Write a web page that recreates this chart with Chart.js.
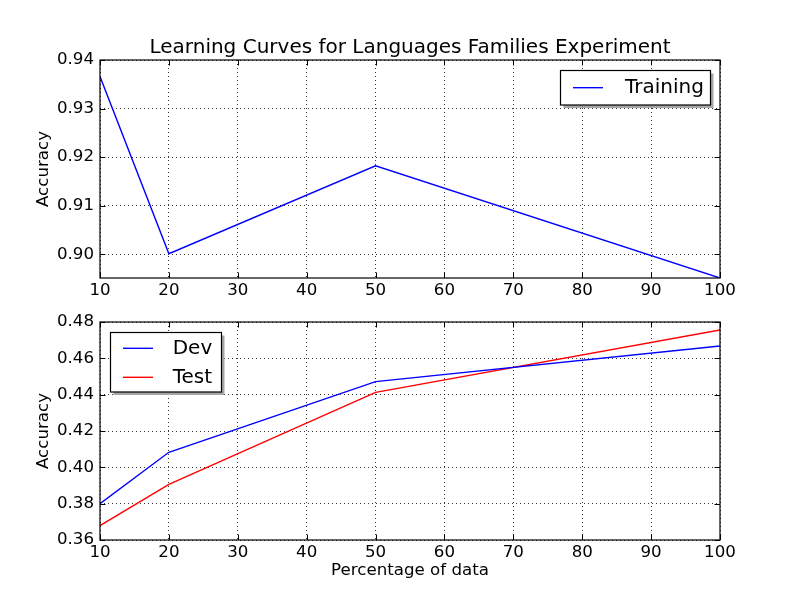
<!DOCTYPE html>
<html>
<head>
<meta charset="utf-8">
<script src="https://cdn.jsdelivr.net/npm/chart.js@4"></script>
<style>
  body { margin: 0; background: #fff; }
  #wrap { position: relative; width: 800px; height: 600px; background: #fff; }
  canvas { position: absolute; left: 0; }
  #topChart { top: 0; }
  #bottomChart { top: 300px; }
</style>
</head>
<body>
<div id="wrap">
  <canvas id="topChart" width="800" height="300"></canvas>
  <canvas id="bottomChart" width="800" height="300"></canvas>
</div>
<script>
// data
const percentages = [10, 20, 50, 100];
const training = [0.9366, 0.9001, 0.9182, 0.8951];
const dev = [0.3800, 0.4083, 0.4472, 0.4668];
const test = [0.3679, 0.3906, 0.4413, 0.4756];

const xTicks = [10, 20, 30, 40, 50, 60, 70, 80, 90, 100];
const topYTicks = [0.90, 0.91, 0.92, 0.93, 0.94];
const bottomYTicks = [0.36, 0.38, 0.40, 0.42, 0.44, 0.46, 0.48];

const FONT = "'DejaVu Sans', 'Liberation Sans', sans-serif";
Chart.defaults.font.family = FONT;
Chart.defaults.color = '#000';

function points(ys) {
  return percentages.map((x, i) => ({ x: x, y: ys[i] }));
}

// axes frame + inward ticks on all four sides
const framePlugin = {
  id: 'frame',
  afterDraw(chart) {
    const { ctx, chartArea: a } = chart;
    const xs = chart.scales.x, ys = chart.scales.y;
    const len = 5.5;
    ctx.save();
    ctx.strokeStyle = '#000';
    ctx.lineWidth = 1;
    ctx.beginPath();
    xs.ticks.forEach(t => {
      const px = Math.round(xs.getPixelForValue(t.value)) + 0.5;
      ctx.moveTo(px, a.top); ctx.lineTo(px, a.top + len);
      ctx.moveTo(px, a.bottom); ctx.lineTo(px, a.bottom - len);
    });
    ys.ticks.forEach(t => {
      const py = Math.round(ys.getPixelForValue(t.value)) + 0.5;
      ctx.moveTo(a.left, py); ctx.lineTo(a.left + len, py);
      ctx.moveTo(a.right, py); ctx.lineTo(a.right - len, py);
    });
    ctx.stroke();
    ctx.lineWidth = 1.2;
    ctx.strokeRect(a.left, a.top, a.right - a.left, a.bottom - a.top);
    ctx.restore();
  }
};

// title centred over the axes, like matplotlib
const axesTitle = {
  id: 'axesTitle',
  afterDraw(chart, args, opts) {
    if (!opts.text) return;
    const { ctx, chartArea: a } = chart;
    ctx.save();
    ctx.font = '20px ' + FONT;
    ctx.fillStyle = '#000';
    ctx.textAlign = 'center';
    ctx.textBaseline = 'alphabetic';
    ctx.fillText(opts.text, (a.left + a.right) / 2, opts.baseline);
    ctx.restore();
  }
};

// matplotlib-like legend box with shadow, inside the axes
const boxLegend = {
  id: 'boxLegend',
  afterDraw(chart, args, opts) {
    const { ctx } = chart;
    const b = opts.box;
    ctx.save();
    ctx.fillStyle = '#a6a6a6';
    ctx.fillRect(b.x + 3, b.y + 3, b.w, b.h);
    ctx.fillStyle = '#fff';
    ctx.fillRect(b.x, b.y, b.w, b.h);
    ctx.strokeStyle = '#000';
    ctx.lineWidth = 1.2;
    ctx.strokeRect(b.x, b.y, b.w, b.h);
    ctx.font = '20px ' + FONT;
    ctx.textBaseline = 'alphabetic';
    ctx.textAlign = 'left';
    chart.data.datasets.forEach((ds, i) => {
      const ly = opts.rows[i];
      ctx.strokeStyle = ds.borderColor;
      ctx.lineWidth = 1.4;
      ctx.beginPath();
      ctx.moveTo(opts.lineX[0], ly);
      ctx.lineTo(opts.lineX[1], ly);
      ctx.stroke();
      ctx.fillStyle = '#000';
      ctx.fillText(ds.label, opts.textX, ly + 5.5);
    });
    ctx.restore();
  }
};

function makeScales(yMin, yMax, yTicks, xTitle) {
  return {
    x: {
      type: 'linear',
      min: 10,
      max: 100,
      afterBuildTicks: s => { s.ticks = xTicks.map(v => ({ value: v })); },
      afterFit: s => { s.height = xTitle ? 60 : 22; },
      ticks: { font: { size: 16.67 }, padding: 3, color: '#000', maxRotation: 0 },
      grid: { color: '#000', lineWidth: 0.8, drawTicks: false },
      border: { display: false, dash: [1, 3] },
      title: xTitle ? {
        display: true, text: xTitle, color: '#000',
        font: { size: 16.67 }, padding: { top: 0, bottom: 19 }
      } : { display: false }
    },
    y: {
      type: 'linear',
      min: yMin,
      max: yMax,
      afterBuildTicks: s => { s.ticks = yTicks.map(v => ({ value: v })); },
      afterFit: s => { s.width = 100; },
      ticks: { font: { size: 16.67 }, padding: 6, color: '#000', callback: v => v.toFixed(2) },
      grid: { color: '#000', lineWidth: 0.8, drawTicks: false },
      border: { display: false, dash: [1, 3] },
      title: {
        display: true, text: 'Accuracy', color: '#000',
        font: { size: 16.67 }, padding: { top: 34, bottom: 0 }
      }
    }
  };
}

const lineDefaults = { borderWidth: 1.4, pointRadius: 0, tension: 0, fill: false };

new Chart(document.getElementById('topChart'), {
  type: 'line',
  data: {
    datasets: [
      { label: 'Training', data: points(training), borderColor: '#0000ff', ...lineDefaults }
    ]
  },
  options: {
    responsive: false,
    animation: false,
    layout: { padding: { left: 0, right: 80, top: 60, bottom: 0 } },
    scales: makeScales(0.8951, 0.94, topYTicks, null),
    plugins: {
      legend: { display: false },
      tooltip: { enabled: false },
      title: { display: false },
      axesTitle: {
        text: 'Learning Curves for Languages Families Experiment',
        baseline: 52.7
      },
      boxLegend: {
        box: { x: 560.5, y: 70.5, w: 150, h: 34.5 },
        rows: [87.7],
        lineX: [573, 603],
        textX: 625
      }
    }
  },
  plugins: [framePlugin, axesTitle, boxLegend]
});

new Chart(document.getElementById('bottomChart'), {
  type: 'line',
  data: {
    datasets: [
      { label: 'Dev', data: points(dev), borderColor: '#0000ff', ...lineDefaults },
      { label: 'Test', data: points(test), borderColor: '#ff0000', ...lineDefaults }
    ]
  },
  options: {
    responsive: false,
    animation: false,
    layout: { padding: { left: 0, right: 80, top: 22, bottom: 0 } },
    scales: makeScales(0.36, 0.48, bottomYTicks, 'Percentage of data'),
    plugins: {
      legend: { display: false },
      tooltip: { enabled: false },
      boxLegend: {
        box: { x: 110.5, y: 32.5, w: 111, h: 59.5 },
        rows: [48.3, 77.3],
        lineX: [123, 153],
        textX: 172.7
      }
    }
  },
  plugins: [framePlugin, axesTitle, boxLegend]
});
</script>
</body>
</html>
